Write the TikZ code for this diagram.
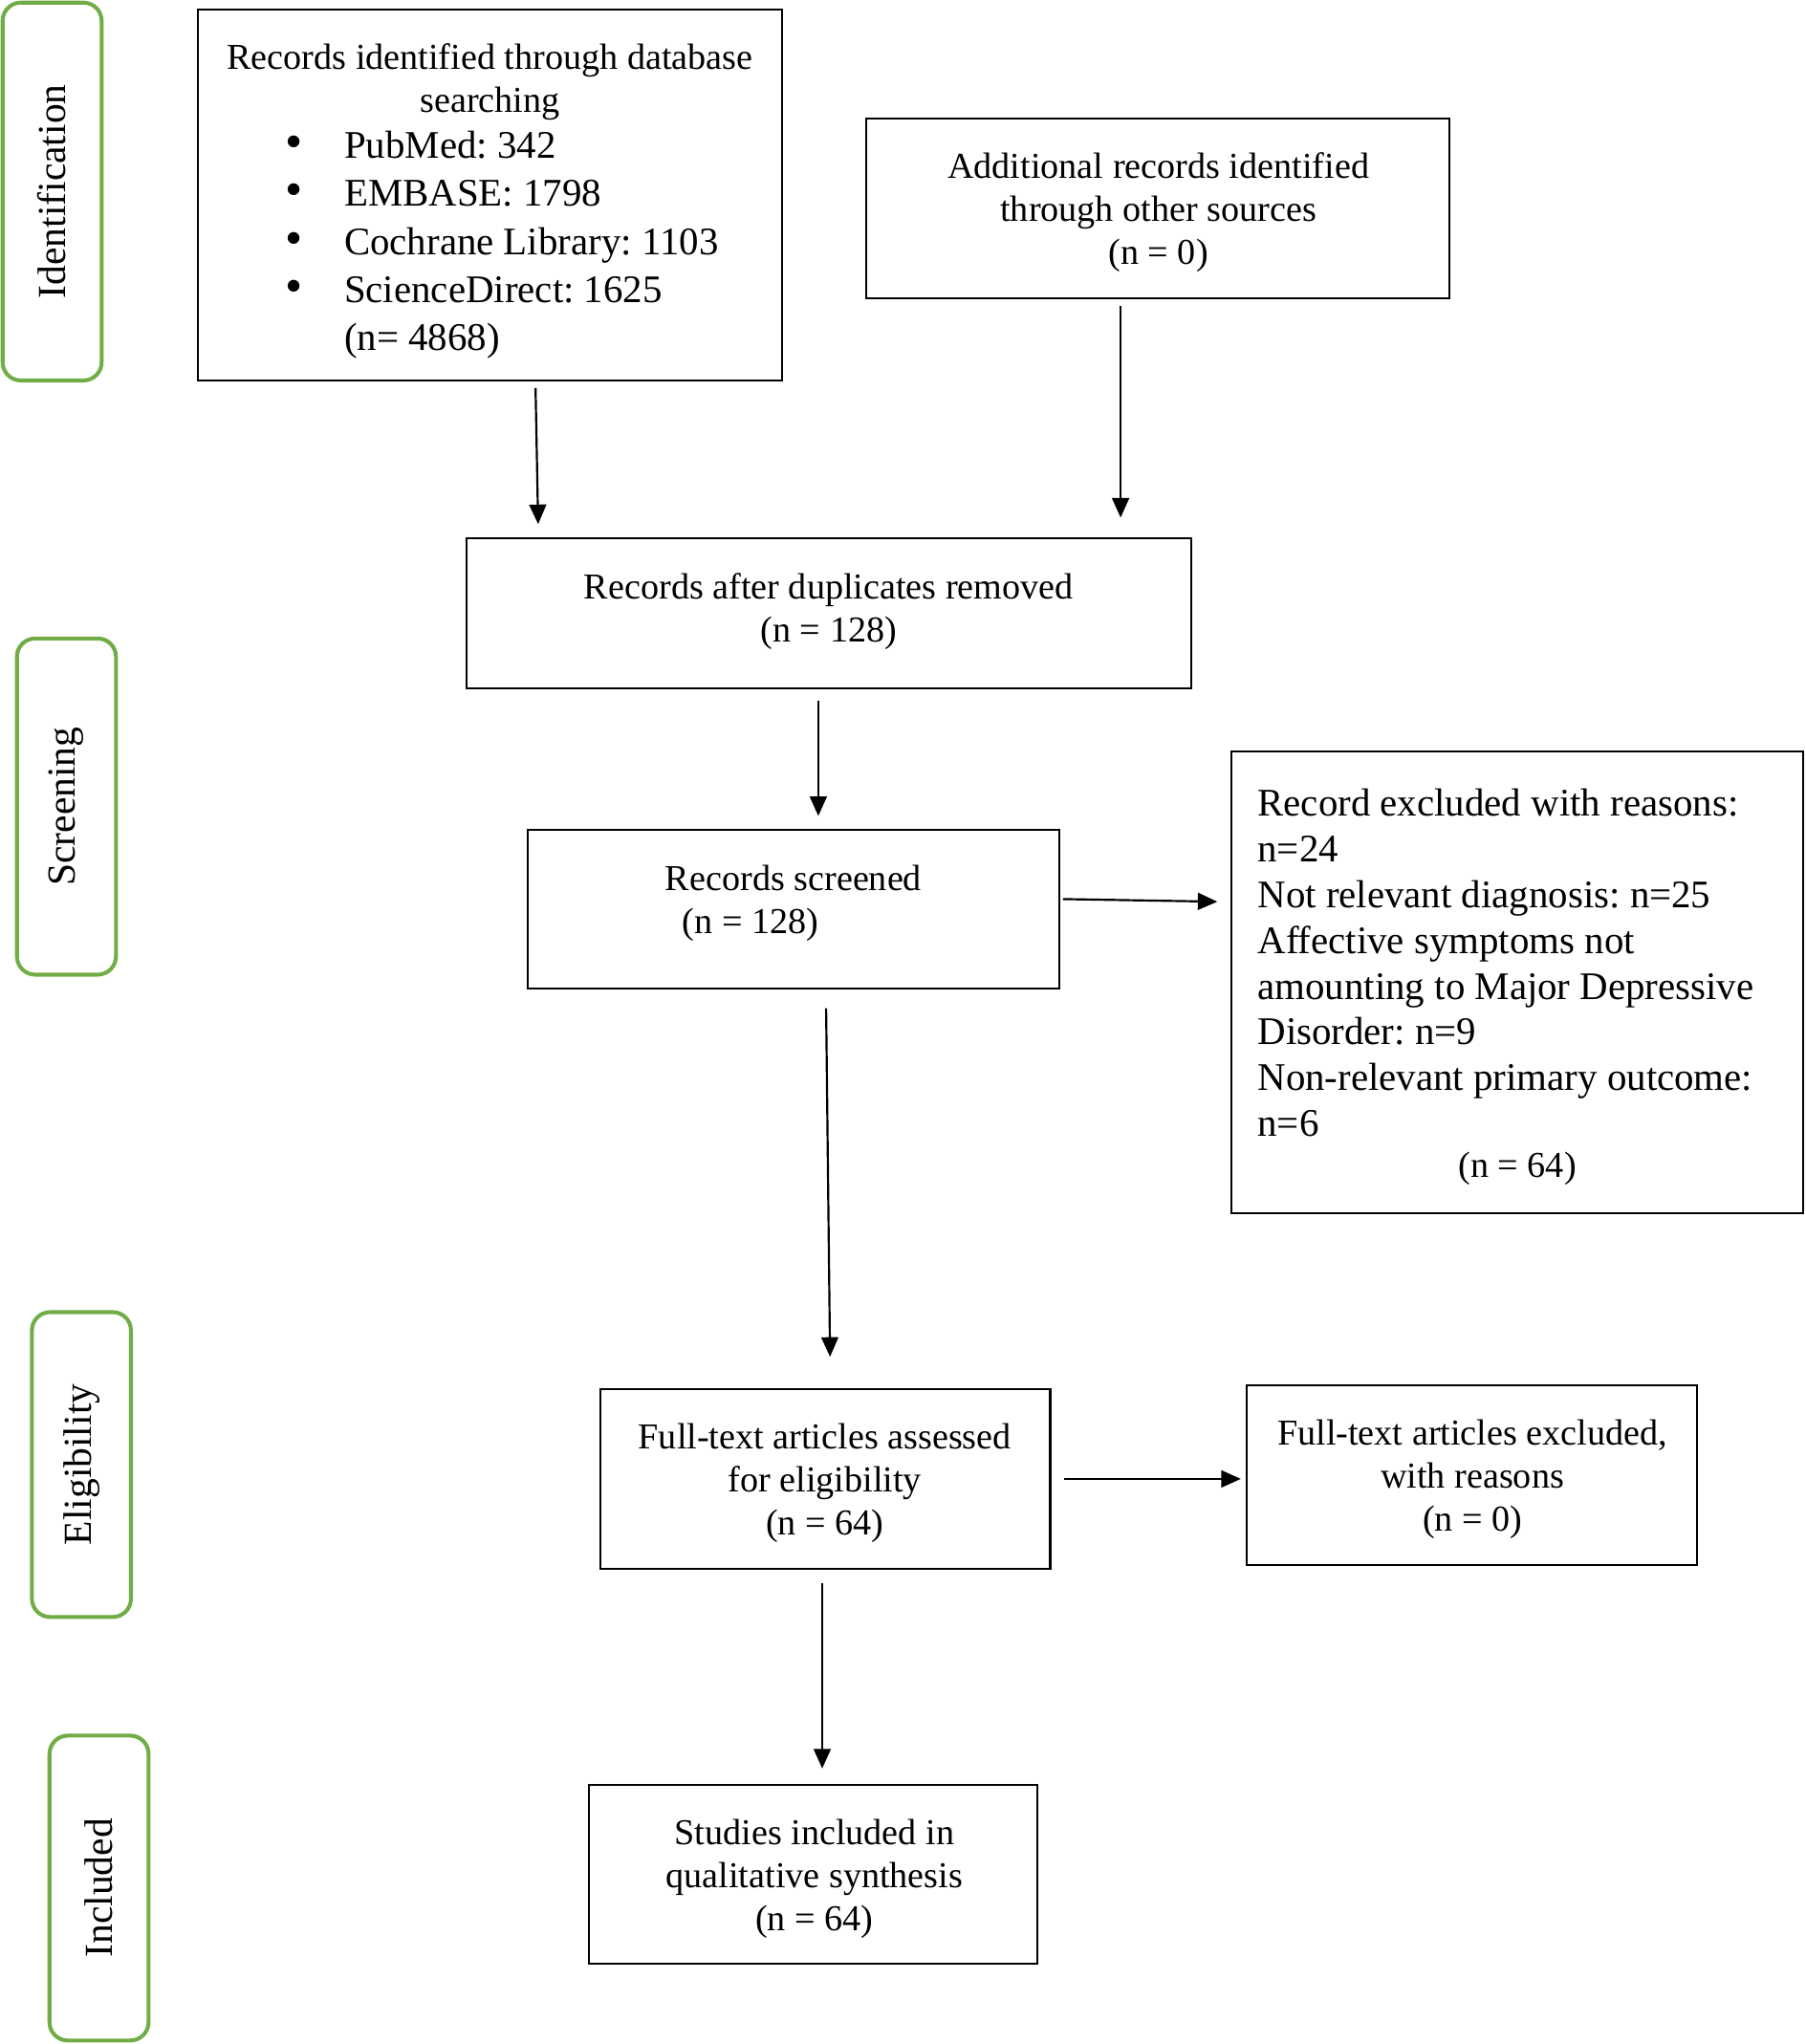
\documentclass[tikz,border=0pt]{standalone}
\usepackage{fontspec}
\setmainfont{Liberation Serif}
\usetikzlibrary{arrows.meta,calc}
\definecolor{stagegreen}{HTML}{70AD47}
\frenchspacing
\begin{document}
\begin{tikzpicture}[x=1pt,y=-1pt,
  box/.style={draw=black, line width=1.5pt, rectangle, inner sep=0pt},
  stage/.style={draw=stagegreen, line width=3pt, rounded corners=14pt, inner sep=0pt, rotate=90, minimum height=76pt, font=\fontsize{30.5}{36}\selectfont},
  arr/.style={line width=1.6pt, -{Triangle[length=15pt,width=13pt]}},
  txt/.style={inner sep=0pt, align=left, font=\fontsize{30}{37}\selectfont},
  ctxt/.style={inner sep=0pt, align=center, font=\fontsize{28}{33}\selectfont}
]
\useasboundingbox (0,0) rectangle (1386,1568.7);

% stage labels
\node[stage, minimum width=290pt] (sI) at (40,147) {Identification};
\node[stage, minimum width=258pt] (sS) at (51,619) {Screening};
\node[stage, minimum width=234pt] (sE) at (62.5,1124) {Eligibility};
\node[stage, minimum width=234pt] (sN) at (76,1449) {Included};

% boxes
\node[box, minimum width=448pt, minimum height=285pt] (A) at (376,149.5) {};
\node[ctxt] (Atitle) at (376,63) {Records identified through database\\searching};
\node[txt, anchor=west] (Alist) at (219,188) {%
\makebox[45pt][l]{\fontsize{38}{37}\selectfont\textbullet}PubMed: 342\\
\makebox[45pt][l]{\fontsize{38}{37}\selectfont\textbullet}EMBASE: 1798\\
\makebox[45pt][l]{\fontsize{38}{37}\selectfont\textbullet}Cochrane Library: 1103\\
\makebox[45pt][l]{\fontsize{38}{37}\selectfont\textbullet}ScienceDirect: 1625\\
\makebox[45pt][l]{}(n= 4868)};

\node[box, minimum width=447pt, minimum height=138pt] (B) at (888.5,160) {};
\node[ctxt] (Btext) at (889,163) {Additional records identified\\through other sources\\(n = 0)};

\node[box, minimum width=556pt, minimum height=115pt] (C) at (636,470.5) {};
\node[ctxt] (Ctext) at (636,469.5) {Records after duplicates removed\\(n = 128)};

\node[box, minimum width=408pt, minimum height=122pt] (D) at (609,698) {};
\node[ctxt] (Dtext) at (609,693.5) {Records screened\\\hspace*{-66pt}(n = 128)};

\node[box, minimum width=439pt, minimum height=354pt] (E) at (1164.5,754) {};
\node[txt, anchor=west, font=\fontsize{30}{35.1}\selectfont] (Etext) at (965,739) {Record excluded with reasons:\\n=24\\Not relevant diagnosis: n=25\\Affective symptoms not\\amounting to Major Depressive\\Disorder: n=9\\Non-relevant primary outcome:\\n=6};
\node[ctxt] (Ecount) at (1164.5,897) {(n = 64)};

\node[box, minimum width=345pt, minimum height=138pt] (F) at (633.5,1135) {};
\node[ctxt] (Ftext) at (633,1138) {Full-text articles assessed\\for eligibility\\(n = 64)};

\node[box, minimum width=345pt, minimum height=138pt] (G) at (1129.5,1132) {};
\node[ctxt] (Gtext) at (1130,1135) {Full-text articles excluded,\\with reasons\\(n = 0)};

\node[box, minimum width=344pt, minimum height=137pt] (H) at (624,1438.5) {};
\node[ctxt] (Htext) at (625,1442) {Studies included in\\qualitative synthesis\\(n = 64)};

% arrows
\draw[arr] ($(A.south)+(35,5)$) -- ($(C.north)+(-223,-10)$);
\draw[arr] ($(B.south)+(-28.5,5)$) -- ($(C.north)+(224,-15)$);
\draw[arr] ($(C.south)+(-8,9)$) -- ($(D.north)+(19,-10)$);
\draw[arr] ($(D.east)+(2,-8)$) -- ($(E.west)+(-10,-62)$);
\draw[arr] ($(D.south)+(25,14)$) -- ($(F.north)+(3.5,-24)$);
\draw[arr] ($(F.east)+(10,0)$) -- ($(G.west)+(-4,3)$);
\draw[arr] ($(F.south)+(-2.5,10)$) -- ($(H.north)+(7,-12)$);
\end{tikzpicture}
\end{document}
